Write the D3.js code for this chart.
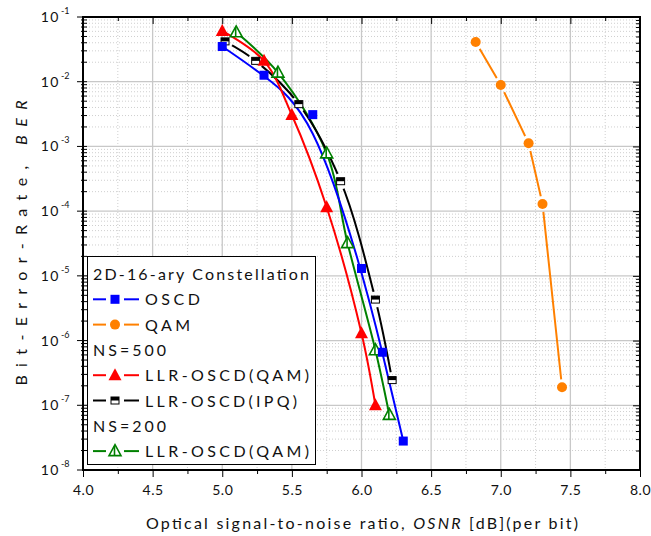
<!DOCTYPE html>
<html lang="en">
<head>
<meta charset="utf-8">
<title>BER vs OSNR</title>
<script src="https://d3js.org/d3.v7.min.js"></script>
<style>
  body { margin: 0; background: #fff; }
  svg text { font-family: Lato, "Open Sans", sans-serif; fill: #111; }
</style>
</head>
<body>
<div id="chart"></div>
<script>
// ---- data ----
const xTicks = [4.0, 4.5, 5.0, 5.5, 6.0, 6.5, 7.0, 7.5, 8.0];
const yExps = [-1, -2, -3, -4, -5, -6, -7, -8];

const osnrOSCD = [5.0, 5.3, 5.65, 6.0, 6.15, 6.3];
const berOSCD = [3.5e-2, 1.26e-2, 3.1e-3, 1.3e-5, 6.6e-7, 2.8e-8];

const osnrQAM = [6.82, 7.0, 7.2, 7.3, 7.44];
const berQAM = [4.1e-2, 8.9e-3, 1.12e-3, 1.29e-4, 1.9e-7];

const osnrLLR500 = [5.0, 5.3, 5.5, 5.75, 6.0, 6.1];
const berLLR500 = [6.1e-2, 2.1e-2, 3.06e-3, 1.15e-4, 1.3e-6, 1.0e-7];

const osnrIPQ = [5.02, 5.24, 5.55, 5.85, 6.1, 6.22];
const berIPQ = [4.2e-2, 2.1e-2, 4.5e-3, 2.9e-4, 4.3e-6, 2.45e-7];

const osnrLLR200 = [5.1, 5.4, 5.75, 5.9, 6.1, 6.2];
const berLLR200 = [5.8e-2, 1.38e-2, 7.8e-4, 3.2e-5, 7.1e-7, 7.1e-8];

const W = 651, H = 536;
const L = 83, R = 640, T = 17, B = 470;

const x = d3.scaleLinear().domain([4, 8]).range([L, R]);
const y = d3.scaleLog().domain([1e-8, 1e-1]).range([B, T]);

const svg = d3.select('#chart').append('svg')
    .attr('width', W).attr('height', H);

// ---- grid ----
const grid = svg.append('g');
const xMinor = d3.range(4.25, 8, 0.5);
const yMinor = [];
for (let e = -8; e < -1; e++) for (let m = 2; m <= 9; m++) yMinor.push(m * Math.pow(10, e));

grid.selectAll('line.xm').data(xMinor).enter().append('line')
    .attr('x1', d => x(d)).attr('x2', d => x(d)).attr('y1', T).attr('y2', B)
    .attr('stroke', '#cfcfcf').attr('stroke-dasharray', '1,2');
grid.selectAll('line.ym').data(yMinor).enter().append('line')
    .attr('x1', L).attr('x2', R).attr('y1', d => y(d)).attr('y2', d => y(d))
    .attr('stroke', '#cfcfcf').attr('stroke-dasharray', '1,2');
grid.selectAll('line.xM').data(xTicks.slice(1, -1)).enter().append('line')
    .attr('x1', d => x(d)).attr('x2', d => x(d)).attr('y1', T).attr('y2', B)
    .attr('stroke', '#c8c8c8').attr('stroke-width', 1.3);
grid.selectAll('line.yM').data(yExps.slice(1, -1)).enter().append('line')
    .attr('x1', L).attr('x2', R).attr('y1', d => y(Math.pow(10, d))).attr('y2', d => y(Math.pow(10, d)))
    .attr('stroke', '#c8c8c8').attr('stroke-width', 1.3);

// ---- axes ----
const fmt = d3.format('.1f');
svg.append('g').attr('transform', `translate(0,${B})`)
    .call(d3.axisBottom(x).tickValues(xTicks).tickFormat(fmt).tickSize(7).tickPadding(8))
    .call(g => g.select('.domain').remove())
    .call(g => g.selectAll('text').attr('font-size', 14).attr('font-family', 'Lato').attr('letter-spacing', 0.5));
svg.append('g').attr('transform', `translate(0,${B})`)
    .call(d3.axisBottom(x).tickValues(xMinor).tickFormat('').tickSize(4))
    .call(g => g.select('.domain').remove());
// top, inward
svg.append('g').attr('transform', `translate(0,${T})`)
    .call(d3.axisBottom(x).tickValues(xTicks).tickFormat('').tickSize(7))
    .call(g => g.select('.domain').remove());
svg.append('g').attr('transform', `translate(0,${T})`)
    .call(d3.axisBottom(x).tickValues(xMinor).tickFormat('').tickSize(4))
    .call(g => g.select('.domain').remove());
// right, inward
svg.append('g').attr('transform', `translate(${R},0)`)
    .call(d3.axisLeft(y).tickValues(yExps.map(e => Math.pow(10, e))).tickFormat('').tickSize(7))
    .call(g => g.select('.domain').remove());
svg.append('g').attr('transform', `translate(${R},0)`)
    .call(d3.axisLeft(y).tickValues(yMinor).tickFormat('').tickSize(4))
    .call(g => g.select('.domain').remove());
// left: crossing ticks
svg.append('g').selectAll('line').data(yExps).enter().append('line')
    .attr('x1', L - 6).attr('x2', L + 4)
    .attr('y1', d => y(Math.pow(10, d))).attr('y2', d => y(Math.pow(10, d)))
    .attr('stroke', '#000');
svg.append('g').selectAll('line').data(yMinor).enter().append('line')
    .attr('x1', L - 2).attr('x2', L + 4)
    .attr('y1', d => y(d)).attr('y2', d => y(d))
    .attr('stroke', '#000');

const ylab = svg.append('g').selectAll('text').data(yExps).enter().append('text')
    .attr('x', 60).attr('y', d => y(Math.pow(10, d)) + 5)
    .attr('text-anchor', 'end').attr('font-size', 14).attr('letter-spacing', 1.5)
    .text('10');
svg.append('g').selectAll('text').data(yExps).enter().append('text')
    .attr('x', 61).attr('y', d => y(Math.pow(10, d)) - 3)
    .attr('font-size', 9)
    .text(d => '-' + Math.abs(d));

svg.append('rect').attr('x', L).attr('y', T).attr('width', R - L).attr('height', B - T)
    .attr('fill', 'none').attr('stroke', '#000').attr('stroke-width', 2);

// ---- axis titles ----
const xt = svg.append('text').attr('x', 362).attr('y', 529).attr('text-anchor', 'middle')
    .attr('font-size', 16).attr('textLength', 432).attr('lengthAdjust', 'spacing');
xt.append('tspan').text('Optical signal-to-noise ratio, ');
xt.append('tspan').attr('font-style', 'italic').text('OSNR');
xt.append('tspan').text(' [dB](per bit)');

const yt = svg.append('text').attr('transform', 'translate(27,243) rotate(-90)').attr('text-anchor', 'middle')
    .attr('font-size', 16).attr('textLength', 285).attr('lengthAdjust', 'spacing');
yt.append('tspan').text('Bit-Error-Rate, ');
yt.append('tspan').attr('font-style', 'italic').text('BER');

// ---- series ----
const series = [
  {name: 'osnrLLR200', xs: osnrLLR200, ys: berLLR200, color: '#008000', marker: 'triOpen', curve: d3.curveCatmullRom, gap: false},
  {name: 'ipq', xs: osnrIPQ, ys: berIPQ, color: '#000000', marker: 'halfSq', curve: d3.curveCatmullRom, gap: true},
  {name: 'oscd', xs: osnrOSCD, ys: berOSCD, color: '#0000ff', marker: 'square', curve: d3.curveBasis, gap: false},
  {name: 'llr500', xs: osnrLLR500, ys: berLLR500, color: '#ff0000', marker: 'tri', curve: d3.curveCatmullRom, gap: false},
  {name: 'qam', xs: osnrQAM, ys: berQAM, color: '#ff8000', marker: 'circle', curve: d3.curveLinear, gap: true}
];

const defs = svg.append('defs');

function drawMarker(g, kind, color, cx, cy) {
  if (kind === 'square') {
    g.append('rect').attr('x', cx - 4.5).attr('y', cy - 4.5).attr('width', 9).attr('height', 9).attr('fill', color);
  } else if (kind === 'circle') {
    g.append('circle').attr('cx', cx).attr('cy', cy).attr('r', 5).attr('fill', color);
  } else if (kind === 'tri') {
    g.append('path').attr('d', `M${cx},${cy - 7}L${cx + 6.5},${cy + 5}L${cx - 6.5},${cy + 5}Z`).attr('fill', color);
  } else if (kind === 'triOpen') {
    g.append('path').attr('d', `M${cx},${cy - 6.5}L${cx + 6},${cy + 4.5}L${cx - 6},${cy + 4.5}Z`)
      .attr('fill', '#fff').attr('stroke', color).attr('stroke-width', 1.6);
    g.append('line').attr('x1', cx - 0.5).attr('x2', cx - 0.5).attr('y1', cy - 5).attr('y2', cy + 4.5)
      .attr('stroke', color).attr('stroke-width', 1.6);
  } else if (kind === 'halfSq') {
    g.append('rect').attr('x', cx - 4).attr('y', cy - 3.5).attr('width', 8).attr('height', 7)
      .attr('fill', '#fff').attr('stroke', color).attr('stroke-width', 1);
    g.append('rect').attr('x', cx - 4).attr('y', cy - 3.5).attr('width', 8).attr('height', 3.5).attr('fill', color);
  }
}

series.forEach(s => {
  const pts = s.xs.map((v, i) => [x(v), y(s.ys[i])]);
  const line = d3.line().curve(s.curve);
  const path = svg.append('path').attr('d', line(pts))
      .attr('fill', 'none').attr('stroke', s.color).attr('stroke-width', 2);
  if (s.gap) {
    const m = defs.append('mask').attr('id', 'mask-' + s.name).attr('maskUnits', 'userSpaceOnUse')
        .attr('x', 0).attr('y', 0).attr('width', W).attr('height', H);
    m.append('rect').attr('width', W).attr('height', H).attr('fill', '#fff');
    pts.forEach(p => m.append('circle').attr('cx', p[0]).attr('cy', p[1]).attr('r', 8).attr('fill', '#000'));
    path.attr('mask', `url(#mask-${s.name})`);
  }
});
series.forEach(s => {
  const g = svg.append('g');
  s.xs.forEach((v, i) => drawMarker(g, s.marker, s.color, x(v), y(s.ys[i])));
});

// ---- legend ----
const leg = svg.append('g');
leg.append('rect').attr('x', 87.5).attr('y', 256.5).attr('width', 228).attr('height', 208)
    .attr('fill', '#fff').attr('stroke', '#000').attr('stroke-width', 1);

const legendRows = [
  {label: '2D-16-ary Constellation', len: 216, key: null},
  {label: 'OSCD', len: 55, key: 'oscd'},
  {label: 'QAM', len: 45, key: 'qam'},
  {label: 'NS=500', len: 73, key: null},
  {label: 'LLR-OSCD(QAM)', len: 164, key: 'llr500'},
  {label: 'LLR-OSCD(IPQ)', len: 152, key: 'ipq'},
  {label: 'NS=200', len: 73, key: null},
  {label: 'LLR-OSCD(QAM)', len: 164, key: 'osnrLLR200'}
];
legendRows.forEach((r, i) => {
  const cy = 274 + i * 25.3;
  if (r.key) {
    const s = series.find(d => d.name === r.key);
    leg.append('line').attr('x1', 93).attr('x2', 106).attr('y1', cy).attr('y2', cy)
      .attr('stroke', s.color).attr('stroke-width', 2);
    leg.append('line').attr('x1', 124).attr('x2', 139).attr('y1', cy).attr('y2', cy)
      .attr('stroke', s.color).attr('stroke-width', 2);
    drawMarker(leg, s.marker, s.color, 115, cy);
  }
  leg.append('text').attr('x', r.key ? 145 : 93).attr('y', cy + 6)
    .attr('font-size', 16).attr('textLength', r.len).attr('lengthAdjust', 'spacing')
    .text(r.label);
});
</script>
</body>
</html>
